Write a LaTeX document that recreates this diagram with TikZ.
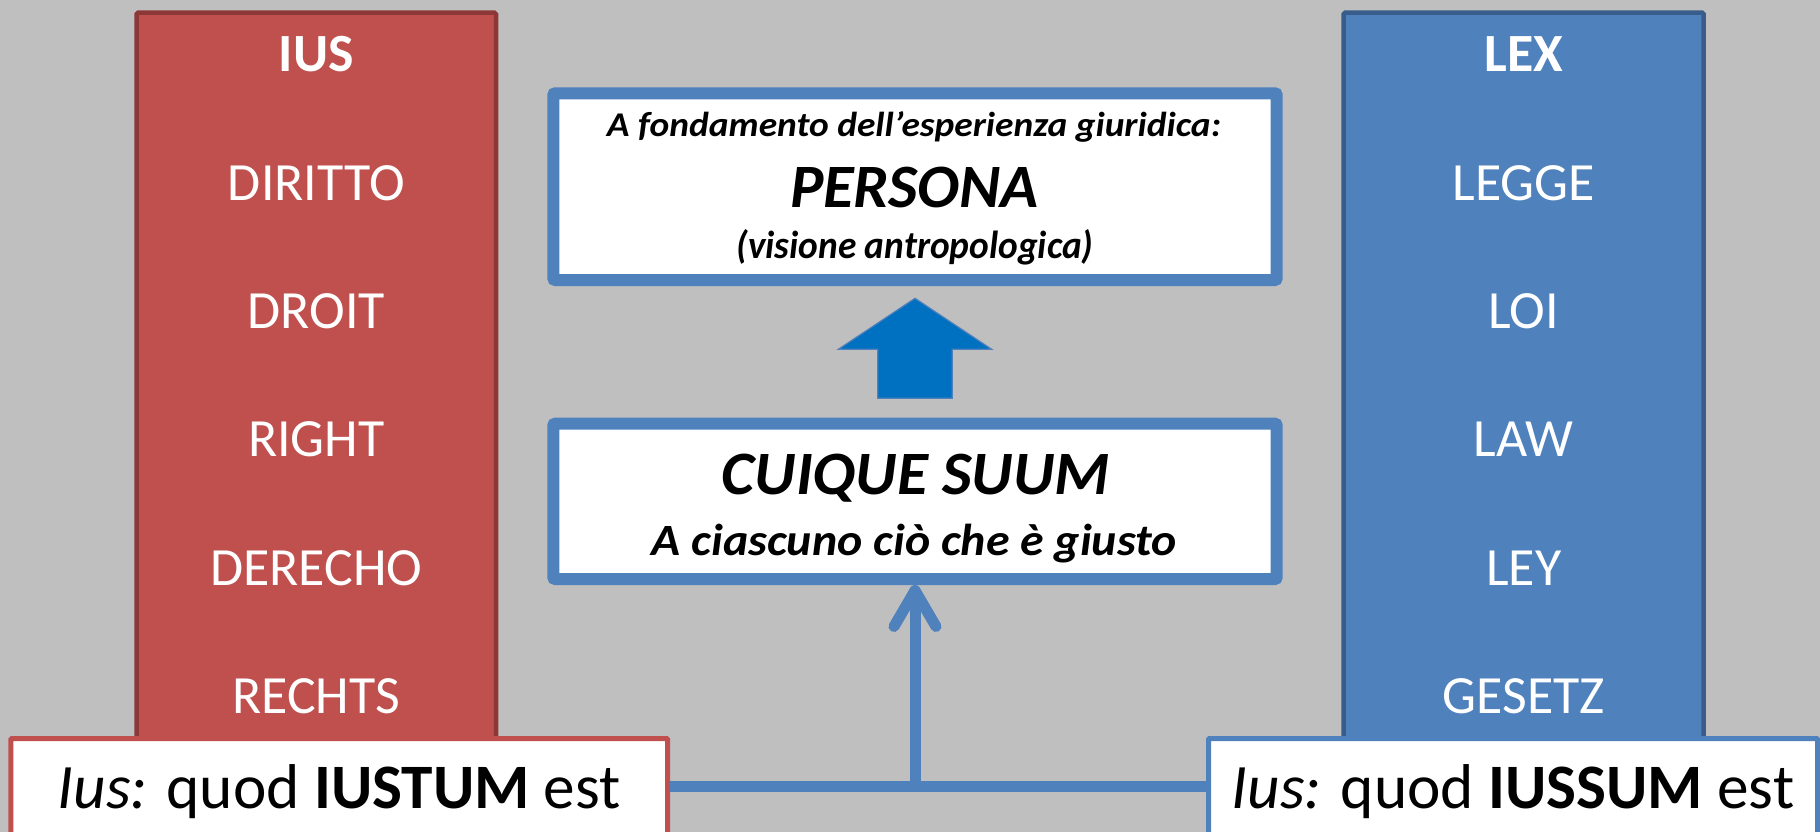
\documentclass[tikz,border=0pt]{standalone}
\usepackage{fontspec}
\usepackage{graphicx}
\setmainfont{Carlito}
\usetikzlibrary{arrows.meta}
\definecolor{bgc}{HTML}{BFBFBF}
\definecolor{redfill}{HTML}{C0504D}
\definecolor{reddraw}{HTML}{8C3836}
\definecolor{bluefill}{HTML}{4F81BD}
\definecolor{bluedraw}{HTML}{385D8A}
\definecolor{arrowfill}{HTML}{0070C0}
\newcommand{\fsz}[1]{\fontsize{#1}{#1}\selectfont}
% fit text: width, reference height, reference glyph, text
\newcommand{\fitt}[4]{\resizebox{#1}{#2}{\vphantom{#3}\smash{#4}}}
\tikzset{
  colbox/.style={rectangle, inner sep=0pt, line width=4.5pt, rounded corners=1.5pt},
  topbox/.style={rectangle, draw=bluefill, fill=white, line width=12pt, inner sep=0pt, rounded corners=2pt},
  botbox/.style={rectangle, fill=white, line width=5pt, inner sep=0pt, rounded corners=1pt},
  coltext/.style={anchor=base, text=white, inner sep=0pt, font=\fsz{53.8}},
  blacktext/.style={anchor=base, text=black, inner sep=0pt, font=\fsz{40}\bfseries\itshape},
  conn/.style={draw=bluefill, line width=11pt},
}
\begin{document}
\begin{tikzpicture}[x=1pt,y=-1pt]
\fill[bgc] (0,0) rectangle (1820,832);
\useasboundingbox (0,0) rectangle (1820,832);
\clip (0,0) rectangle (1820,832);
% columns
\node[colbox, draw=reddraw, fill=redfill, minimum width=359.4pt, minimum height=747.3pt] (ius) at (316.3,386.35) {};
\node[colbox, draw=bluedraw, fill=bluefill, minimum width=360pt, minimum height=747.3pt] (lex) at (1523.7,386.35) {};
% column texts
\node[coltext, font=\fsz{53.8}\bfseries] (t1) at (316.3,71.7) {IUS};
\node[coltext] (t2) at (316.3,200) {DIRITTO};
\node[coltext] (t3) at (316.3,328.3) {DROIT};
\node[coltext] (t4) at (316.3,456.7) {RIGHT};
\node[coltext] (t5) at (316.3,585) {DERECHO};
\node[coltext] (t6) at (316.3,713.3) {RECHTS};
\node[coltext, font=\fsz{53.8}\bfseries] (u1) at (1523.7,71.7) {LEX};
\node[coltext] (u2) at (1523.7,200) {LEGGE};
\node[coltext] (u3) at (1523.7,328.3) {LOI};
\node[coltext] (u4) at (1523.7,456.7) {LAW};
\node[coltext] (u5) at (1523.7,585) {LEY};
\node[coltext] (u6) at (1523.7,713.3) {GESETZ};
% top box
\node[topbox, minimum width=723.4pt, minimum height=186.7pt] (persona) at (915,186.65) {};
\node[blacktext] (p1) at (914,137) {\fitt{614pt}{22.5pt}{A}{A fondamento dell’esperienza giuridica:}};
\node[blacktext] (p2) at (914.5,207.2) {\fitt{249pt}{40pt}{A}{PERSONA}};
\node[blacktext] (p3) at (915,258) {\fitt{357pt}{19pt}{x}{(visione antropologica)}};
% big arrow
\draw[fill=arrowfill, draw=bluefill, line width=1.2pt] (915,298.3) -- (991.7,349.3) -- (952.3,349.3) -- (952.3,398.3) -- (877.7,398.3) -- (877.7,349.3) -- (838.3,349.3) -- cycle;
% cuique box
\node[topbox, minimum width=723.4pt, minimum height=155.3pt] (cuique) at (915,501.35) {};
\node[blacktext] (c1) at (915.8,494) {\fitt{388pt}{40pt}{A}{CUIQUE SUUM}};
\node[blacktext] (c2) at (914.2,555) {\fitt{525pt}{29pt}{A}{A ciascuno ciò che è giusto}};
% bottom boxes
\node[botbox, draw=redfill, minimum width=656.7pt, minimum height=96.5pt] (iustum) at (339.15,786.75) {};
\node[botbox, draw=bluefill, minimum width=609pt, minimum height=96.5pt] (iussum) at (1513,786.75) {};
\node[blacktext, font=\fsz{63.3}] (b1) at (339.15,808.3) {\textit{Ius:} quod \textbf{IUSTUM} est};
\node[blacktext, font=\fsz{63.3}] (b2) at (1513,808.3) {\textit{Ius:} quod \textbf{IUSSUM} est};
% connectors
\coordinate (j) at (915,786.75);
\draw[conn] (iustum.east) -- (iussum.west);
\draw[conn, -{Straight Barb[length=36pt, width=42pt, line cap=round, line join=round]}] (j) -- (cuique.south);
\end{tikzpicture}
\end{document}
